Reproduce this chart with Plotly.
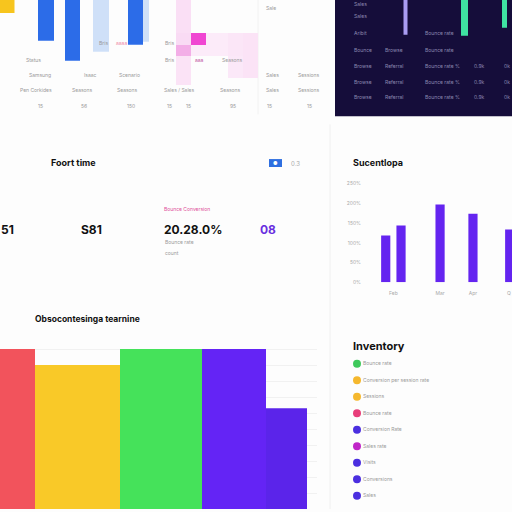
import plotly.graph_objects as go

W = 512.0
def px(x): return x / W
def py(y): return 1 - y / W

# ---------- data ----------
# top-left hanging bars
tl_x = [4.6, 7.25, 10.1, 13.55]
tl_values = [-41, -61, -52, -45]
tl_colors = ["#2c6ce8", "#2c6ce8", "#cfe0f8", "#2c6ce8"]
tl_shadow_x = [13.9]
tl_shadow_values = [-42]
tl_badge_x = [0.7]
tl_badge_values = [-13]

# heatmap
hm_x_edges = [0, 16, 31, 46, 68, 83, 98]
hm_y_edges = [0, 33, 45, 56, 78, 85]
hm_z = [
    [None, 0.15, None, None, None, None],
    [None, 0.18, 1.0, 0.06, 0.10, 0.12],
    [None, 0.45, 0.06, 0.06, 0.10, 0.12],
    [None, 0.12, None, None, 0.08, 0.12],
    [None, 0.12, None, None, None, None],
]

# dark panel bars
dk_x = [70.5, 129.5, 169.5]
dk_values = [-35, -36, -28]
dk_colors = ["#a99cf2", "#3fe2a2", "#3fe2a2"]

# percent bars (middle right)
pb_x = [1.55, 2.55, 5.1, 7.25, 9.65]
pb_values = [119, 144, 197, 174, 134]
pb_ticks = [2.05, 5.1, 7.25, 9.6]
pb_ticklabels = ["Feb", "Mar", "Apr", "Q"]
pb_yticks = [0, 50, 100, 150, 200, 250]
pb_yticklabels = ["0%", "50%", "100%", "150%", "200%", "250%"]

# bottom wide bars (marimekko)
mb_widths = [35, 85, 82, 64, 41]
mb_values = [100, 90, 100, 100, 63]
mb_colors = ["#f2535c", "#f9c928", "#45e25a", "#6424f5", "#5b24ea"]

# inventory legend
inv_labels = ["Bounce rate", "Conversion per session rate", "Sessions", "Bounce rate",
              "Conversion Rate", "Sales rate", "Visits", "Conversions", "Sales", "Other"]
inv_colors = ["#3ec95c", "#f5b82e", "#f5b82e", "#e83e7a", "#4b2fe0",
              "#c026c8", "#4b2fe0", "#4b2fe0", "#4b2fe0", "#4b2fe0"]

# KPI texts
kpi_values = ["51", "S81", "20.28.0%", "08"]

fig = go.Figure()

# ----- panel 1: top-left bars -----
fig.add_trace(go.Bar(x=tl_shadow_x, y=tl_shadow_values, width=2.0, marker_color="#cfe0f8",
                     marker_line_width=0, xaxis="x", yaxis="y"))
fig.add_trace(go.Bar(x=tl_x, y=tl_values, width=[1.6, 1.5, 1.6, 1.5], marker_color=tl_colors,
                     marker_line_width=0, xaxis="x", yaxis="y"))
fig.add_trace(go.Bar(x=tl_badge_x, y=tl_badge_values, width=1.5, marker_color="#f7c51e",
                     marker_line_width=0, xaxis="x", yaxis="y"))

# ----- panel 2: heatmap -----
fig.add_trace(go.Heatmap(x=hm_x_edges, y=hm_y_edges, z=hm_z, zmin=0, zmax=1, showscale=False,
                         colorscale=[[0, "#fdf3fb"], [0.2, "#f9d8f3"], [0.5, "#f2a6e4"], [1, "#f046d2"]],
                         xaxis="x2", yaxis="y2", hoverinfo="skip"))

# ----- panel 3: dark panel bars -----
fig.add_trace(go.Bar(x=dk_x, y=dk_values, width=[4, 7, 5], marker_color=dk_colors,
                     marker_line_width=0, xaxis="x3", yaxis="y3"))

# ----- panel 4: percent bars -----
fig.add_trace(go.Bar(x=pb_x, y=pb_values, width=0.6, marker_color="#6424f0",
                     marker_line_width=0, xaxis="x4", yaxis="y4"))

# ----- panel 5: marimekko bars -----
mb_centers = []
acc = 0
for w in mb_widths:
    mb_centers.append(acc + w / 2)
    acc += w
fig.add_trace(go.Bar(x=mb_centers, y=mb_values, width=mb_widths, marker_color=mb_colors,
                     marker_line_width=0, xaxis="x5", yaxis="y5"))

# ----- panel 6: inventory legend -----
fig.add_trace(go.Scatter(x=[7] * len(inv_labels), y=list(range(len(inv_labels))),
                         mode="markers+text", text=inv_labels, textposition="middle right",
                         textfont=dict(size=5, color="#9a9a9a", family="Inter"),
                         marker=dict(size=8, color=inv_colors), xaxis="x6", yaxis="y6",
                         cliponaxis=False))

hidden = dict(showgrid=False, zeroline=False, showticklabels=False, showline=False, ticks="")

fig.update_layout(
    width=512, height=512, margin=dict(l=0, r=0, t=0, b=0),
    paper_bgcolor="#fdfdfd", plot_bgcolor="rgba(0,0,0,0)",
    showlegend=False, barmode="overlay",
    font=dict(family="Inter", color="#222"),
    xaxis=dict(domain=[0, px(160)], range=[0, 16], **hidden),
    yaxis=dict(domain=[py(115), 1], range=[-115, 0], **hidden),
    xaxis2=dict(domain=[px(160), px(260)], range=[0, 100], anchor="y2", **hidden),
    yaxis2=dict(domain=[py(115), 1], range=[115, 0], anchor="x2", **hidden),
    xaxis3=dict(domain=[px(335), 1], range=[0, 177], anchor="y3", **hidden),
    yaxis3=dict(domain=[py(117), 1], range=[-117, 0], anchor="x3", **hidden),
    xaxis4=dict(domain=[px(362), 1], range=[0, 9.8], anchor="y4", showgrid=False, zeroline=False,
                tickvals=pb_ticks, ticktext=pb_ticklabels, ticks="", showline=False,
                ticklabelstandoff=7, tickfont=dict(size=5, color="#aaaaaa")),
    yaxis4=dict(domain=[py(284), py(180)], range=[0, 262], anchor="x4", showgrid=False, zeroline=False,
                tickvals=pb_yticks, ticktext=pb_yticklabels, ticks="", showline=False,
                tickfont=dict(size=5, color="#aaaaaa")),
    xaxis5=dict(domain=[0, px(317)], range=[0, 317], anchor="y5", **hidden),
    yaxis5=dict(domain=[0, py(335)], range=[0, 110], anchor="x5", showgrid=True, gridcolor="#f1f1f1",
                gridwidth=1, dtick=10, zeroline=False, showticklabels=False, ticks=""),
    xaxis6=dict(domain=[px(350), 1], range=[0, 162], anchor="y6", **hidden),
    yaxis6=dict(domain=[0, py(358)], range=[8.8, -0.48], anchor="x6", **hidden),
)

# dark panel background & separators
fig.add_shape(type="rect", xref="paper", yref="paper", x0=px(335), x1=1, y0=py(117), y1=1,
              fillcolor="#150d3a", line_width=0, layer="below")
fig.add_shape(type="line", xref="paper", yref="paper", x0=px(330), x1=px(330), y0=0, y1=py(125),
              line=dict(color="#f0f0f0", width=1), layer="below")
fig.add_shape(type="line", xref="paper", yref="paper", x0=px(258), x1=px(258), y0=py(115), y1=1,
              line=dict(color="#f2f2f2", width=1), layer="below")
# blue pill
fig.add_shape(type="rect", xref="paper", yref="paper", x0=px(269), x1=px(282), y0=py(168), y1=py(160),
              fillcolor="#2f6fe0", line_width=0)

def txt(x, y, s, size=5, color="#9a9a9a", bold=False, anchor="left"):
    fig.add_annotation(xref="paper", yref="paper", x=px(x), y=py(y), text=("<b>%s</b>" % s) if bold else s,
                       showarrow=False, xanchor=anchor, yanchor="middle",
                       font=dict(size=size, color=color, family="Inter"))

# top-left small texts
for x, y, s in [(24, 60, "Status"), (27, 75, "Samsung"), (82, 75, "Isaac"), (117, 75, "Scenario"),
                (18, 91, "Pen Corkides"), (70, 91, "Seasons"), (115, 91, "Seasons"),
                (36, 107, "15"), (79, 107, "56"), (125, 107, "150"), (97, 43, "Bris"),
                (163, 43, "Bris"), (163, 60, "Bris"), (220, 60, "Seasons"),
                (162, 91, "Sales / Sales"), (218, 91, "Seasons"),
                (165, 107, "15"), (184, 107, "15"), (228, 107, "95"),
                (264, 8, "Sale"), (264, 75, "Sales"), (296, 75, "Sessions"),
                (264, 91, "Sales"), (296, 91, "Sessions"), (265, 107, "15"), (305, 107, "15")]:
    txt(x, y, s)
txt(114, 43, "aaaa", color="#f08aa8")
txt(193, 60, "aaa", color="#c050a0")

# dark panel texts
dcol = "#8c88b0"
for x, y, s in [(352, 4, "Sales"), (352, 16, "Sales"), (352, 33, "Aribit"), (423, 33, "Bounce rate"),
                (352, 50, "Bounce"), (383, 50, "Browse"), (423, 50, "Bounce rate")]:
    txt(x, y, s, color=dcol)
for y in [66, 82, 98]:
    for x, s in [(352, "Browse"), (383, "Referral"), (423, "Bounce rate %"), (472, "0.9k"), (502, "0k")]:
        txt(x, y, s, color=dcol)

# middle-left card
txt(49, 163, "Foort time", size=9, color="#111", bold=True)
txt(275.5, 164, "●", size=5, color="#ffffff", anchor="center")
txt(289, 164, "0.3", size=6, color="#aaaaaa")
txt(-1, 231, kpi_values[0], size=12, color="#111", bold=True)
txt(79, 231, kpi_values[1], size=12, color="#111", bold=True)
txt(162, 231, kpi_values[2], size=12, color="#111", bold=True)
txt(258, 231, kpi_values[3], size=12, color="#6a2fe0", bold=True)
txt(162, 210, "Bounce Conversion", size=5, color="#e0509a")
txt(163, 243, "Bounce rate", size=5)
txt(163, 254, "count", size=5)

# other titles
txt(351, 163, "Sucentlopa", size=9, color="#111", bold=True)
txt(33, 321, "Obsocontesinga tearnine", size=8.5, color="#111", bold=True)
txt(351, 348, "Inventory", size=11, color="#111", bold=True)

fig.write_html("out.html")
